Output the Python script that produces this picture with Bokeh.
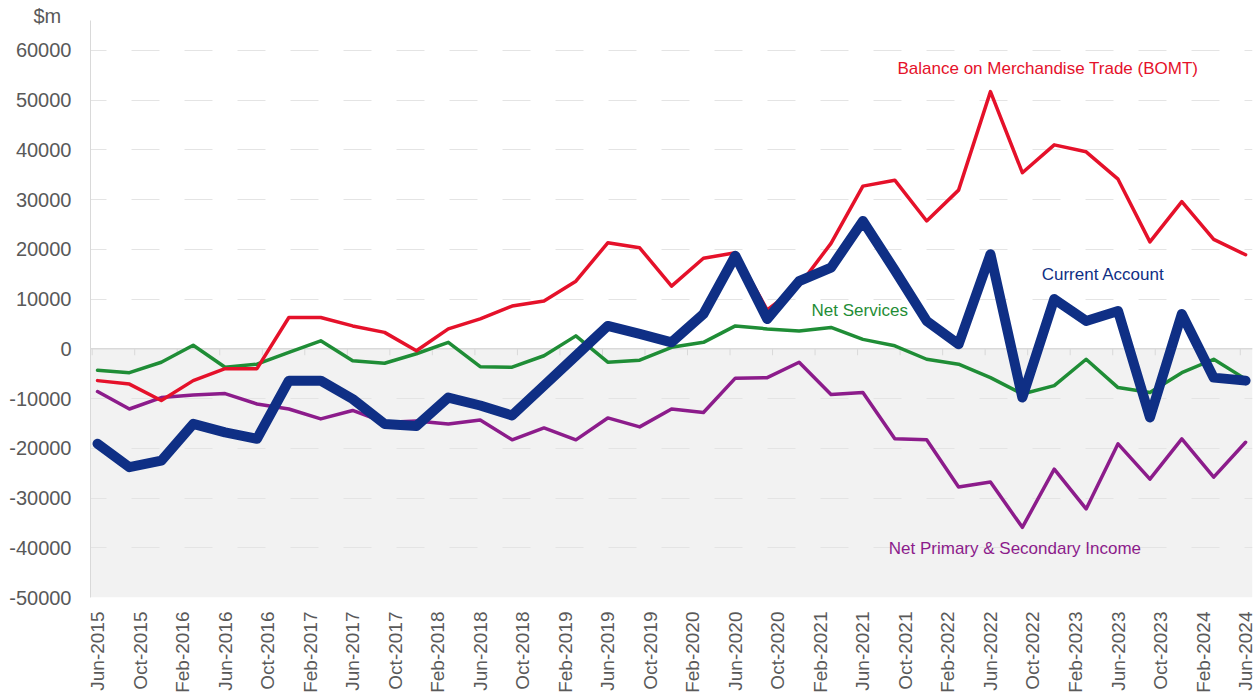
from math import pi
from bokeh.plotting import figure
from bokeh.models import Range1d, FixedTicker, Span, BoxAnnotation, Label, NumeralTickFormatter
from bokeh.embed import file_html
from bokeh.resources import INLINE

# ---------------- data ($m, quarterly) ----------------
quarters = [
    "Jun-2015", "Sep-2015", "Dec-2015", "Mar-2016", "Jun-2016", "Sep-2016", "Dec-2016",
    "Mar-2017", "Jun-2017", "Sep-2017", "Dec-2017", "Mar-2018", "Jun-2018", "Sep-2018",
    "Dec-2018", "Mar-2019", "Jun-2019", "Sep-2019", "Dec-2019", "Mar-2020", "Jun-2020",
    "Sep-2020", "Dec-2020", "Mar-2021", "Jun-2021", "Sep-2021", "Dec-2021", "Mar-2022",
    "Jun-2022", "Sep-2022", "Dec-2022", "Mar-2023", "Jun-2023", "Sep-2023", "Dec-2023",
    "Mar-2024", "Jun-2024",
]

tick_labels = [
    "Jun-2015", "Oct-2015", "Feb-2016", "Jun-2016", "Oct-2016", "Feb-2017", "Jun-2017",
    "Oct-2017", "Feb-2018", "Jun-2018", "Oct-2018", "Feb-2019", "Jun-2019", "Oct-2019",
    "Feb-2020", "Jun-2020", "Oct-2020", "Feb-2021", "Jun-2021", "Oct-2021", "Feb-2022",
    "Jun-2022", "Oct-2022", "Feb-2023", "Jun-2023", "Oct-2023", "Feb-2024", "Jun-2024",
]

bomt = [-6400, -7100, -10400, -6400, -4000, -4000, 6300, 6300, 4600, 3300,
        -400, 4000, 6000, 8600, 9600, 13600, 21300, 20300, 12600, 18200,
        19300, 7800, 12700, 21200, 32700, 33900, 25700, 31900, 51700, 35400,
        41000, 39600, 34100, 21500, 29600, 22000, 18900]

net_services = [-4300, -4800, -2700, 700, -3700, -3100, -700, 1600, -2400, -2900,
                -1000, 1300, -3600, -3700, -1400, 2600, -2700, -2300, 300, 1300,
                4600, 4000, 3600, 4300, 1900, 600, -2100, -3100, -5800, -9100,
                -7400, -2100, -7800, -8800, -4800, -2100, -6100]

net_income = [-8600, -12100, -9800, -9300, -9000, -11100, -12100, -14100, -12400, -14800,
              -14500, -15100, -14300, -18300, -15900, -18300, -13900, -15700, -12100, -12800,
              -5900, -5800, -2700, -9200, -8800, -18100, -18300, -27800, -26800, -35900,
              -24200, -32200, -19100, -26200, -18100, -25800, -18800]

current_account = [-19100, -23800, -22500, -15100, -16800, -18100, -6400, -6400, -10100, -15100,
                   -15500, -9800, -11400, -13400, -7400, -1400, 4600, 3000, 1300, 7000,
                   18700, 6000, 13600, 16300, 25700, 15800, 5600, 900, 19000, -9800,
                   10000, 5600, 7600, -13800, 7000, -5800, -6400]

y_ticks = list(range(-50000, 60001, 10000))

# ---------------- styling ----------------
RED = "#e5112a"
NAVY = "#0f2f85"
GREEN = "#1f8d36"
PURPLE = "#8c1c8b"
GREY_TXT = "#595959"
FONT = "Liberation Sans"

MON = {"Jan": 1, "Feb": 2, "Mar": 3, "Apr": 4, "May": 5, "Jun": 6,
       "Jul": 7, "Aug": 8, "Sep": 9, "Oct": 10, "Nov": 11, "Dec": 12}


def month_index(s):
    m, y = s.split("-")
    return (int(y) - 2015) * 12 + MON[m] - 6


x = [month_index(q) for q in quarters]
tick_x = [month_index(t) for t in tick_labels]

p = figure(width=1257, height=696, output_backend="svg", toolbar_location=None,
           x_range=Range1d(-0.66, 108.65), y_range=Range1d(-50000, 66000),
           min_border_left=90, min_border_right=5, min_border_top=20, min_border_bottom=99)
p.outline_line_color = None
p.background_fill_color = "white"
p.border_fill_color = "white"

# "$m" unit caption (title placed to the left of the frame)
p.title.text = "$m"
p.title.align = "left"
p.title.offset = -57
p.title.standoff = -12
p.title.text_font = FONT
p.title.text_font_size = "20px"
p.title.text_font_style = "normal"
p.title.text_color = GREY_TXT

# negative region shading
p.add_layout(BoxAnnotation(top=0, fill_color="#f2f2f2", fill_alpha=1.0,
                           line_color=None, level="image"))

# grid
p.xgrid.grid_line_color = None
p.ygrid.ticker = FixedTicker(ticks=y_ticks)
p.ygrid.grid_line_color = "#e4e4e4"
p.ygrid.grid_line_dash = "28 25"
p.ygrid.grid_line_dash_offset = 12

# y axis
p.yaxis.ticker = FixedTicker(ticks=y_ticks)
p.yaxis.formatter = NumeralTickFormatter(format="0")
p.yaxis.axis_line_color = "#d9d9d9"
p.yaxis.major_tick_line_color = None
p.yaxis.major_tick_out = 0
p.yaxis.minor_tick_line_color = None
p.yaxis.minor_tick_out = 0
p.yaxis.major_label_standoff = 19
p.yaxis.major_label_text_font = FONT
p.yaxis.major_label_text_font_size = "20px"
p.yaxis.major_label_text_color = GREY_TXT

# x axis (labels at bottom)
p.xaxis.ticker = FixedTicker(ticks=tick_x)
p.xaxis.major_label_overrides = {t: lab for t, lab in zip(tick_x, tick_labels)}
p.xaxis.major_label_orientation = pi / 2
p.xaxis.axis_line_color = None
p.xaxis.major_tick_line_color = None
p.xaxis.major_tick_out = 0
p.xaxis.minor_tick_line_color = None
p.xaxis.minor_tick_out = 0
p.xaxis.major_label_standoff = 14
p.xaxis.major_label_text_font = FONT
p.xaxis.major_label_text_font_size = "19px"
p.xaxis.major_label_text_color = GREY_TXT

# zero line with small tick marks
p.add_layout(Span(location=0, dimension="width", line_color="#d9d9d9",
                  line_width=1.5, level="underlay"))
tick_marks = [t - 0.5 for t in tick_x]
p.segment(x0=tick_marks, y0=[0] * len(tick_marks), x1=tick_marks,
          y1=[-1300] * len(tick_marks), line_color="#d9d9d9", line_width=1)

# series
p.line(x, net_income, line_color=PURPLE, line_width=3.5, line_join="round", line_cap="round")
p.line(x, net_services, line_color=GREEN, line_width=3.5, line_join="round", line_cap="round")
p.line(x, bomt, line_color=RED, line_width=3.5, line_join="round", line_cap="round")
p.line(x, current_account, line_color=NAVY, line_width=10, line_join="round", line_cap="round")

# annotations
def add_label(xv, yv, text, color, size="17px"):
    p.add_layout(Label(x=xv, y=yv, text=text, text_color=color, text_font=FONT,
                       text_font_size=size, text_align="center", text_baseline="middle"))

add_label(89.4, 56400, "Balance on Merchandise Trade (BOMT)", RED)
add_label(94.6, 15000, "Current Account", NAVY)
add_label(71.7, 7600, "Net Services", GREEN)
add_label(86.3, -40100, "Net Primary & Secondary Income", PURPLE)

open("out.html", "w").write(file_html(p, INLINE))
